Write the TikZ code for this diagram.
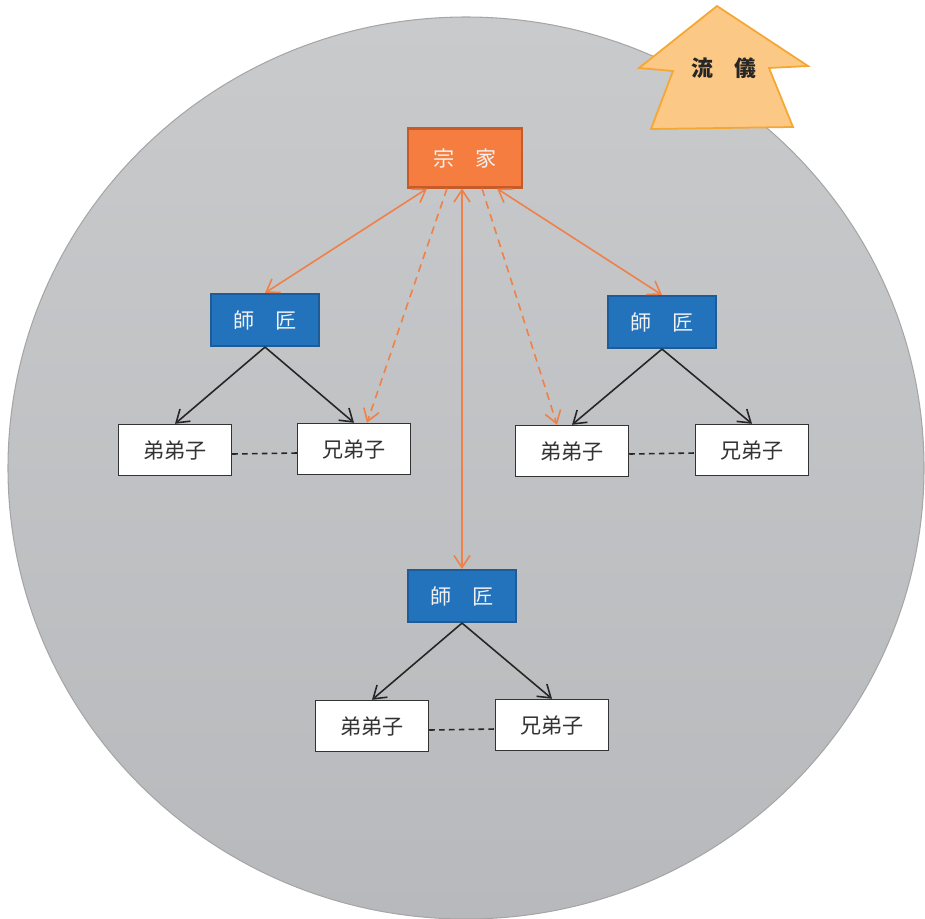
\documentclass[tikz,border=0pt]{standalone}
\usepackage{fontspec}
\newfontfamily\jp{Noto Sans CJK JP}
\usetikzlibrary{arrows.meta}
\definecolor{bgtop}{HTML}{C9CACC}
\definecolor{bgbot}{HTML}{B8B9BC}
\definecolor{soke}{HTML}{F47D3F}
\definecolor{sokeline}{HTML}{C65A28}
\definecolor{shisho}{HTML}{2272BC}
\definecolor{shisholine}{HTML}{1D5C98}
\definecolor{link}{HTML}{F08048}
\definecolor{ryufill}{HTML}{FCC886}
\definecolor{ryuline}{HTML}{F5A733}

\begin{document}
\begin{tikzpicture}[x=0.01cm,y=-0.01cm,
    >={Straight Barb[length=1.2mm,width=1.6mm]},
    txt/.style={font=\jp\fontsize{6}{7}\selectfont},
    sokebox/.style={txt,draw=sokeline,fill=soke,line width=0.6pt,text=white!95!black,
        minimum width=1.14cm,minimum height=0.59cm,inner sep=0pt},
    shishobox/.style={txt,draw=shisholine,fill=shisho,line width=0.6pt,text=white!95!black,
        minimum width=1.08cm,minimum height=0.52cm,inner sep=0pt},
    deshibox/.style={txt,draw=black!80,fill=white,line width=0.4pt,text=black!80,
        minimum width=1.13cm,minimum height=0.51cm,inner sep=0pt},
    tie/.style={link,line width=0.45pt,<->},
    tiedash/.style={link,line width=0.45pt,->,dash pattern=on 2.2pt off 1.6pt},
    down/.style={black!85,line width=0.45pt,->},
    peer/.style={black!85,line width=0.45pt,dash pattern=on 1.6pt off 1.2pt}]

    \useasboundingbox (0,0) rectangle (925,918);

    % background
    \begin{scope}
    \clip (0,0) rectangle (925,918);
    \shade[top color=bgtop,bottom color=bgbot,draw=black!35,line width=0.3pt]
        (466,468) ellipse [x radius=458,y radius=451];
    \end{scope}

    % ryugi arrow
    \draw[ryuline,fill=ryufill,line width=0.5pt] (717,6) -- (808,66) -- (769,68)
        -- (793,127) -- (651,129) -- (673,71) -- (639,68) -- cycle;
    \node[font=\jp\bfseries\fontsize{6.2}{7}\selectfont,text=black!85] (ryugi) at (724,68) {流　儀};

    % boxes
    \node[sokebox] (soke) at (465,158) {宗　家};

    \node[shishobox] (shL) at (265,320) {師　匠};
    \node[shishobox] (shR) at (662,322) {師　匠};
    \node[shishobox] (shB) at (462,596) {師　匠};

    \node[deshibox] (otoL) at (175,450) {弟弟子};
    \node[deshibox] (aniL) at (354,449) {兄弟子};
    \node[deshibox] (otoR) at (572,451) {弟弟子};
    \node[deshibox] (aniR) at (752,450) {兄弟子};
    \node[deshibox] (otoB) at (372,726) {弟弟子};
    \node[deshibox] (aniB) at (552,725) {兄弟子};

    % soke links
    \draw[tie] ([xshift=-0.38cm]soke.south) -- (shL.north);
    \draw[tiedash] ([xshift=-0.18cm]soke.south) -- ([xshift=0.13cm]aniL.north);
    \draw[tie] (shB.north |- soke.south) -- (shB.north);
    \draw[tiedash] ([xshift=0.17cm]soke.south) -- ([xshift=-0.15cm]otoR.north);
    \draw[tie] ([xshift=0.32cm]soke.south) -- (shR.north);

    % shisho to deshi
    \draw[down] (shL.south) -- (otoL.north);
    \draw[down] (shL.south) -- (aniL.north);
    \draw[down] (shR.south) -- (otoR.north);
    \draw[down] (shR.south) -- (aniR.north);
    \draw[down] (shB.south) -- (otoB.north);
    \draw[down] (shB.south) -- (aniB.north);

    \draw[peer] ([yshift=-0.04cm]otoL.east) -- ([yshift=-0.04cm]aniL.west);
    \draw[peer] ([yshift=-0.03cm]otoR.east) -- ([yshift=-0.03cm]aniR.west);
    \draw[peer] ([yshift=-0.04cm]otoB.east) -- ([yshift=-0.04cm]aniB.west);
\end{tikzpicture}
\end{document}
